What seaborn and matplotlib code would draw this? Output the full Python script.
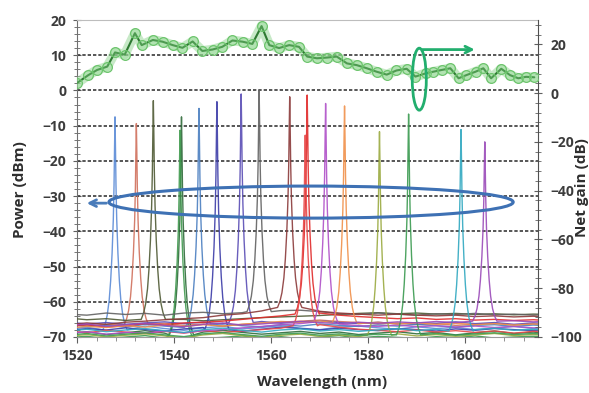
import numpy as np
import pandas as pd
import matplotlib
matplotlib.use("Agg")
import matplotlib.pyplot as plt
import seaborn as sns
from matplotlib.patches import Ellipse
from matplotlib.ticker import MultipleLocator

# ---------------- data ----------------
floor_wl = [1518, 1522, 1526, 1530, 1534, 1538, 1542, 1546, 1550, 1554, 1558, 1562, 1566,
            1570, 1574, 1578, 1582, 1586, 1590, 1594, 1598, 1602, 1606, 1610, 1614, 1618]

peak_wl = [1527.8, 1532.2, 1535.7, 1541.5, 1541.2, 1545.1, 1548.8, 1553.8, 1557.5,
           1563.8, 1567.4, 1567.0, 1571.2, 1575.1, 1582.3, 1588.3, 1599.1, 1604.0]
peak_dbm = [-7.5, -9.4, -2.9, -7.5, -11.3, -5.1, -3.2, -1.0, 0.1,
            -1.8, -1.3, -12.7, -3.7, -4.4, -11.7, -6.7, -11.1, -14.6]
trace_colors = ["#5b8bd6", "#d0705c", "#4f5a34", "#2f6b3a", "#3f9a4e", "#4a7ec0", "#3c3ca8",
                "#5a4db5", "#626262", "#8b3a3a", "#e02a2a", "#e84848", "#b050c8", "#f0904a",
                "#9aaa40", "#3a9a50", "#30a8c0", "#9a4ab8"]

floor_db = [
    [-67.8,-67.2,-68.0,-67.5,-66.9,-67.6,-68.1,-67.4,-67.0,-67.7,-67.3,-66.8,-67.5,-67.9,-67.2,-66.9,-67.4,-67.8,-67.1,-67.6,-67.3,-67.9,-67.5,-67.0,-67.6,-67.3],
    [-66.2,-66.8,-66.4,-67.0,-66.5,-66.1,-66.7,-66.3,-66.9,-66.4,-66.0,-65.8,-65.5,-65.2,-65.6,-65.9,-66.3,-66.0,-66.5,-66.2,-66.7,-66.4,-66.1,-66.6,-66.3,-66.8],
    [-64.6,-65.1,-64.8,-65.3,-65.0,-64.7,-65.0,-65.4,-65.1,-64.8,-64.5,-64.3,-64.1,-63.9,-63.6,-63.3,-63.1,-63.4,-63.2,-63.5,-63.3,-63.6,-63.4,-63.7,-63.5,-63.6],
    [-69.0,-68.5,-69.3,-68.8,-68.2,-68.9,-69.4,-68.6,-68.1,-68.7,-69.2,-68.8,-68.4,-69.0,-68.6,-69.3,-68.9,-68.5,-69.1,-68.7,-69.4,-68.8,-68.3,-69.0,-68.6,-69.2],
    [-70.2,-69.8,-70.5,-70.0,-69.6,-70.3,-69.9,-70.4,-70.1,-69.7,-70.2,-69.9,-70.5,-70.0,-69.6,-70.3,-69.8,-70.1,-70.4,-69.9,-70.2,-69.7,-70.3,-70.0,-69.8,-70.2],
    [-66.5,-67.0,-66.7,-67.2,-66.4,-66.9,-67.3,-66.6,-66.2,-66.8,-67.1,-66.5,-66.9,-66.3,-66.7,-67.0,-66.6,-66.9,-66.4,-66.8,-67.2,-66.7,-66.5,-67.0,-66.6,-66.9],
    [-68.2,-67.6,-68.0,-67.4,-67.9,-68.3,-67.7,-67.3,-67.9,-68.4,-67.8,-67.2,-67.6,-68.0,-67.5,-67.9,-68.2,-67.6,-67.9,-68.3,-67.7,-68.1,-67.6,-67.9,-68.2,-67.8],
    [-65.8,-66.3,-65.9,-66.4,-66.0,-65.7,-66.2,-65.8,-66.3,-65.9,-65.6,-66.1,-65.7,-65.4,-65.9,-66.2,-65.8,-66.3,-65.9,-66.1,-65.7,-66.2,-65.9,-66.4,-66.0,-66.2],
    [-63.5,-63.8,-63.2,-63.6,-63.3,-63.8,-63.2,-63.0,-63.4,-63.1,-62.8,-62.5,-62.4,-62.8,-63.4,-63.6,-63.2,-63.5,-63.8,-63.4,-63.6,-63.3,-63.7,-63.5,-63.8,-63.6],
    [-66.5,-66.0,-66.4,-65.8,-65.5,-65.1,-64.8,-64.5,-63.8,-63.4,-62.6,-61.6,-61.8,-62.7,-63.2,-63.5,-63.8,-63.5,-63.8,-64.0,-63.8,-64.2,-64.0,-64.3,-64.1,-64.5],
    [-67.0,-66.5,-67.2,-66.8,-66.2,-66.5,-66.0,-65.8,-65.5,-65.0,-64.5,-64.0,-63.5,-63.2,-63.8,-64.2,-64.5,-64.8,-64.6,-65.0,-64.8,-65.2,-65.0,-65.3,-65.1,-65.4],
    [-68.3,-68.8,-68.1,-68.6,-69.0,-68.4,-68.9,-68.2,-68.7,-68.3,-67.9,-67.5,-66.8,-66.5,-67.2,-67.8,-68.1,-68.5,-68.0,-68.6,-68.2,-68.7,-68.3,-68.9,-68.4,-68.6],
    [-69.0,-68.5,-69.2,-68.7,-68.9,-68.3,-68.8,-68.2,-67.9,-67.4,-67.0,-66.5,-66.2,-65.8,-66.3,-66.8,-67.0,-66.6,-67.1,-66.8,-67.2,-66.9,-67.3,-67.0,-67.4,-67.1],
    [-67.5,-67.0,-67.3,-66.8,-67.2,-66.6,-67.0,-66.5,-66.9,-66.4,-66.0,-65.6,-65.8,-65.4,-65.9,-66.2,-65.8,-66.3,-66.0,-66.4,-66.1,-66.5,-66.2,-66.6,-66.3,-66.5],
    [-69.8,-69.3,-70.0,-69.5,-69.1,-69.7,-70.2,-69.4,-69.0,-69.6,-70.1,-69.5,-69.2,-69.8,-69.4,-69.9,-69.5,-69.1,-69.7,-69.3,-69.8,-69.4,-69.0,-69.6,-69.3,-69.7],
    [-69.5,-69.0,-69.7,-69.2,-68.8,-69.4,-69.9,-69.1,-68.7,-69.3,-69.8,-69.2,-68.9,-69.5,-69.1,-69.6,-69.2,-68.8,-69.4,-69.0,-69.5,-69.1,-68.8,-69.3,-69.0,-69.4],
    [-68.3,-67.8,-68.5,-68.0,-67.6,-68.2,-68.7,-67.9,-67.5,-68.1,-68.6,-68.0,-67.7,-68.3,-67.9,-68.4,-68.0,-67.6,-68.2,-67.8,-68.3,-67.9,-67.5,-68.1,-67.8,-68.2],
    [-66.8,-66.3,-67.0,-66.5,-66.1,-66.7,-67.1,-66.4,-66.0,-66.6,-66.3,-65.9,-65.6,-65.9,-66.2,-65.8,-66.1,-65.7,-66.0,-65.6,-65.9,-65.5,-65.8,-65.4,-65.7,-65.5],
]

# measured peak line shape: offset from centre (nm) and fraction of the way down to the floor
prof_off = [-2.5, -2.0, -1.6, -1.2, -0.9, -0.6, -0.35, -0.2, -0.1, 0.0,
            0.1, 0.2, 0.35, 0.6, 0.9, 1.2, 1.6, 2.0, 2.5]
prof_frac = [1.0, 0.97, 0.93, 0.86, 0.77, 0.64, 0.48, 0.32, 0.15, 0.0,
             0.15, 0.32, 0.48, 0.64, 0.77, 0.86, 0.93, 0.97, 1.0]

gain_wl = [1520.0, 1522.3, 1524.1, 1526.2, 1527.8, 1529.8, 1531.9, 1533.3, 1535.6, 1537.6,
           1539.7, 1541.7, 1543.8, 1545.8, 1547.9, 1549.9, 1552.0, 1554.1, 1556.1, 1558.0,
           1559.6, 1561.6, 1563.7, 1565.7, 1567.4, 1569.4, 1571.5, 1573.5, 1575.6, 1577.6,
           1579.7, 1581.7, 1583.8, 1585.8, 1587.9, 1589.7, 1591.8, 1593.4, 1595.1, 1596.9,
           1598.6, 1600.2, 1602.1, 1603.7, 1605.3, 1607.4, 1609.2, 1610.9, 1612.5, 1614.2]
gain_db = [4.2, 7.4, 9.5, 10.9, 16.7, 15.8, 24.6, 19.7, 21.8, 21.1,
           19.7, 18.6, 21.2, 17.3, 17.9, 19.0, 21.6, 21.1, 20.2, 27.5,
           19.7, 18.5, 19.7, 19.0, 15.0, 14.3, 14.6, 15.0, 12.2, 11.5,
           10.2, 8.8, 7.6, 9.3, 10.0, 6.8, 8.1, 8.8, 9.5, 10.2,
           6.1, 7.4, 8.8, 10.2, 6.1, 10.0, 7.4, 6.1, 6.7, 6.5]

left_ticks = [-70, -60, -50, -40, -30, -20, -10, 0, 10, 20]
right_ticks = [-100, -80, -60, -40, -20, 0, 20]
x_ticks = [1520, 1540, 1560, 1580, 1600]

# ---------------- figure ----------------
sns.set_style("ticks")
plt.rcParams['font.family'] = ['Open Sans', 'DejaVu Sans']

fig = plt.figure(figsize=(5.89, 3.93), dpi=100)
ax = fig.add_axes([0.131, 0.1425, 0.7827, 0.8066])

fw = np.array(floor_wl, dtype=float)
for lam, pk, col, fl in zip(peak_wl, peak_dbm, trace_colors, floor_db):
    fl = np.array(fl, dtype=float)
    keep = np.abs(fw - lam) > 2.5
    base = fl[np.argmin(np.abs(fw - lam))]
    pw = lam + np.array(prof_off)
    pv = pk + np.array(prof_frac) * (base - pk)
    wl = np.concatenate([fw[keep], pw])
    pv_all = np.concatenate([fl[keep], pv])
    order = np.argsort(wl)
    df = pd.DataFrame({"wl": wl[order], "p": pv_all[order]})
    sns.lineplot(data=df, x="wl", y="p", ax=ax, color=col, lw=1.0, alpha=0.9,
                 sort=False, estimator=None, zorder=3)

ax.set_xlim(1520, 1615)
ax.set_ylim(-70, 20)
ax.set_yticks(left_ticks)
ax.set_xticks(x_ticks)
ax.yaxis.set_minor_locator(MultipleLocator(2))
ax.xaxis.set_minor_locator(MultipleLocator(4))
for v in left_ticks[1:-1]:
    ax.axhline(v, color="#3a3a3a", lw=1.2, ls=(0, (2.0, 1.2)), zorder=1)

ax2 = ax.twinx()
# light halo band under the gain curve
sns.lineplot(x=gain_wl, y=gain_db, ax=ax2, color="#9ad89a", lw=7, alpha=0.55,
             solid_capstyle="round", zorder=3)
sns.lineplot(x=gain_wl, y=gain_db, ax=ax2, color="#2e7a32", lw=1.5, marker="o",
             markersize=7, markerfacecolor=(0.55, 0.85, 0.55, 0.35),
             markeredgecolor="#6cc46c", markeredgewidth=0.9, zorder=4)
ax2.set_ylim(-100, 30)
ax2.set_yticks(right_ticks)
ax2.yaxis.set_minor_locator(MultipleLocator(4))

# annotations (left-axis data coordinates)
ax2.add_patch(Ellipse((1568.2, -31.7), 83.3, 9.1, transform=ax.transData,
                      fill=False, edgecolor="#3e71b4", lw=2.2, zorder=6))
ax2.annotate("", xy=(1521.4, -32.0), xytext=(1526.6, -32.0),
             xycoords=ax.transData, textcoords=ax.transData,
             arrowprops=dict(arrowstyle="->", color="#4a7cba", lw=2.0,
                             mutation_scale=12), zorder=6)
ax2.add_patch(Ellipse((1590.5, 3.2), 2.9, 17.6, transform=ax.transData,
                      fill=False, edgecolor="#22ae6e", lw=2.0, zorder=6))
ax2.annotate("", xy=(1602.5, 11.6), xytext=(1590.6, 11.6),
             xycoords=ax.transData, textcoords=ax.transData,
             arrowprops=dict(arrowstyle="->", color="#22ae6e", lw=2.0,
                             mutation_scale=12), zorder=6)

# spines & ticks
for s in ["top", "right", "bottom", "left"]:
    ax2.spines[s].set_visible(s == "right")
ax.spines["top"].set_color("#bdbdbd")
ax.spines["right"].set_visible(False)
ax.spines["left"].set_color("#707070")
ax.spines["bottom"].set_color("#9a9a9a")
ax2.spines["right"].set_color("#505050")

tick_kw = dict(labelsize=10, labelcolor="#3c3c3c", color="#606060")
ax.tick_params(axis="y", which="major", direction="inout", length=6, pad=5, **tick_kw)
ax.tick_params(axis="y", which="minor", direction="inout", length=4, color="#606060")
ax.tick_params(axis="x", which="major", direction="out", length=4, pad=5, **tick_kw)
ax.tick_params(axis="x", which="minor", direction="out", length=3, color="#808080")
ax2.tick_params(axis="y", which="major", direction="inout", length=6, pad=6, **tick_kw)
ax2.tick_params(axis="y", which="minor", direction="inout", length=4, color="#606060")
for lbl in ax.get_xticklabels() + ax.get_yticklabels() + ax2.get_yticklabels():
    lbl.set_fontweight("bold")

ax.set_xlabel("Wavelength (nm)", fontsize=11, fontweight="bold", color="#2e2e2e")
ax.set_ylabel("Power (dBm)", fontsize=11, fontweight="bold", color="#2e2e2e")
ax2.set_ylabel("Net gain (dB)", fontsize=11, fontweight="bold", color="#2e2e2e")
ax.xaxis.set_label_coords(0.531, -0.12)
ax.yaxis.set_label_coords(-0.108, 0.464)
ax2.yaxis.set_label_coords(1.080, 0.47)

fig.savefig("out.png", dpi=100)
